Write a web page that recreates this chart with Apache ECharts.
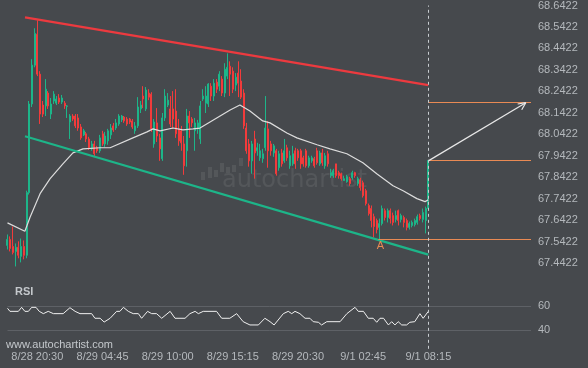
<!DOCTYPE html>
<html><head><meta charset="utf-8">
<script src="https://cdn.jsdelivr.net/npm/echarts@6/dist/echarts.min.js"></script>
<style>html,body{margin:0;padding:0;background:#46494d;}#c{width:588px;height:368px;}</style>
</head><body><div id="c"></div>
<script>
// ---- data ----
const tickIdx = [11, 35, 59, 83, 107, 131, 155];
const tickLabels = ['8/28 20:30', '8/29 04:45', '8/29 10:00', '8/29 15:15', '8/29 20:30', '9/1 02:45', '9/1 08:15'];
const priceTicks = ['67.4422', '67.5422', '67.6422', '67.7422', '67.8422', '67.9422', '68.0422', '68.1422', '68.2422', '68.3422', '68.4422', '68.5422', '68.6422'];
const rsiTicks = ['40', '60'];
// [open, close, low, high]
const candles = [
[67.524,67.552,67.505,67.575],[67.552,67.510,67.496,67.566],[67.519,67.491,67.482,67.612],[67.496,67.515,67.426,67.533],
[67.515,67.478,67.464,67.543],[67.473,67.519,67.445,67.556],[67.519,67.478,67.459,67.547],[67.478,67.770,67.464,67.779],
[67.770,68.183,67.761,68.197],[68.183,68.364,68.169,68.392],[68.364,68.512,68.354,68.536],[68.508,68.322,68.313,68.573],
[68.322,68.136,68.090,68.336],[68.178,68.136,68.122,68.197],[68.174,68.252,68.127,68.299],[68.234,68.174,68.160,68.243],
[68.136,68.183,68.113,68.211],[68.197,68.229,68.183,68.243],[68.187,68.206,68.178,68.220],[68.211,68.192,68.183,68.229],
[68.192,68.211,68.183,68.225],[68.187,68.174,68.160,68.197],[68.172,68.174,68.118,68.178],[68.099,68.127,68.020,68.136],
[68.127,68.113,68.104,68.136],[68.127,68.081,68.071,68.136],[68.118,68.071,68.058,68.136],[68.076,68.025,68.016,68.090],
[68.039,68.058,68.034,68.067],[68.044,68.020,68.006,68.053],[68.020,67.979,67.969,68.030],[67.974,67.997,67.965,68.011],
[67.997,67.951,67.937,68.011],[67.979,67.965,67.955,67.988],[67.965,68.025,67.955,68.039],[68.044,67.997,67.988,68.058],
[67.997,68.034,67.983,68.053],[68.011,68.058,67.993,68.067],[68.039,68.071,68.020,68.090],[68.081,68.062,68.053,68.095],
[68.071,68.095,68.062,68.113],[68.090,68.127,68.081,68.136],[68.109,68.127,68.099,68.132],[68.122,68.104,68.095,68.127],
[68.113,68.090,68.081,68.122],[68.113,68.099,68.090,68.118],[68.104,68.076,68.067,68.113],[68.058,68.081,68.044,68.099],
[68.081,68.169,68.071,68.215],[68.160,68.178,68.141,68.197],[68.220,68.206,68.164,68.266],[68.160,68.248,68.150,68.262],
[68.234,68.215,68.201,68.252],[68.229,68.067,68.053,68.238],[67.997,68.099,67.979,68.113],[68.095,68.034,68.006,68.164],
[68.025,67.974,67.918,68.044],[67.928,68.118,67.918,68.141],[68.118,68.220,68.104,68.252],[68.178,68.201,68.169,68.234],
[68.160,68.090,68.076,68.220],[68.160,68.113,68.067,68.243],[68.150,68.044,68.025,68.252],[68.067,68.011,67.988,68.113],
[68.058,68.002,67.965,68.081],[67.997,67.895,67.853,68.034],[67.965,68.127,67.891,68.160],[68.127,68.095,68.025,68.150],
[68.113,68.095,68.076,68.122],[68.058,68.095,67.965,68.118],[68.067,68.095,68.044,68.109],[68.020,68.174,67.997,68.197],
[68.206,68.220,68.197,68.252],[68.187,68.220,68.141,68.266],[68.183,68.276,68.169,68.280],[68.266,68.220,68.197,68.280],
[68.220,68.280,68.197,68.299],[68.285,68.252,68.234,68.299],[68.266,68.322,68.243,68.336],[68.299,68.234,68.220,68.313],
[68.234,68.345,68.215,68.373],[68.313,68.354,68.299,68.419],[68.359,68.322,68.220,68.382],[68.336,68.252,68.234,68.354],
[68.271,68.308,68.243,68.327],[68.327,68.280,68.215,68.382],[68.290,68.215,68.206,68.345],[68.234,68.081,68.067,68.252],
[68.071,67.965,67.951,68.095],[67.997,67.918,67.891,68.020],[67.918,67.997,67.858,68.011],[68.020,67.955,67.835,68.058],
[67.965,67.979,67.942,68.002],[67.932,67.965,67.918,67.997],[67.928,67.951,67.909,67.974],[67.979,68.071,67.965,68.220],
[68.067,67.965,67.886,68.104],[67.997,67.965,67.942,68.011],[67.955,67.988,67.937,67.997],[67.965,67.858,67.849,67.974],
[67.886,67.951,67.872,67.965],[67.955,67.904,67.891,67.974],[67.918,67.965,67.909,68.020],[67.979,67.932,67.918,67.993],
[67.895,67.942,67.881,67.965],[67.904,67.951,67.895,67.988],[67.965,67.904,67.881,67.979],[67.965,67.932,67.918,67.974],
[67.965,67.904,67.881,67.974],[67.932,67.904,67.891,67.942],[67.965,67.895,67.886,67.974],[67.895,67.932,67.886,67.942],
[67.918,67.932,67.909,67.942],[67.928,67.895,67.886,67.937],[67.965,67.909,67.900,67.979],[67.904,67.955,67.895,67.965],
[67.955,67.909,67.895,67.974],[67.895,67.942,67.881,67.955],[67.951,67.904,67.891,67.965],[67.849,67.863,67.839,67.881],
[67.849,67.872,67.839,67.881],[67.904,67.849,67.839,67.904],[67.863,67.849,67.835,67.872],[67.858,67.835,67.826,67.863],
[67.826,67.835,67.826,67.849],[67.821,67.844,67.816,67.853],[67.835,67.812,67.802,67.844],[67.839,67.863,67.830,67.872],
[67.863,67.849,67.839,67.867],[67.812,67.835,67.802,67.844],[67.830,67.793,67.779,67.839],[67.816,67.756,67.747,67.826],
[67.779,67.719,67.710,67.788],[67.710,67.672,67.663,67.719],[67.696,67.640,67.608,67.710],[67.658,67.612,67.561,67.672],
[67.640,67.598,67.580,67.649],[67.608,67.626,67.552,67.649],[67.626,67.696,67.617,67.710],[67.686,67.654,67.640,67.696],
[67.654,67.686,67.631,67.696],[67.686,67.649,67.626,67.696],[67.663,67.631,67.617,67.677],[67.645,67.663,67.631,67.686],
[67.686,67.640,67.617,67.691],[67.645,67.663,67.631,67.672],[67.654,67.631,67.608,67.663],[67.640,67.608,67.594,67.649],
[67.608,67.626,67.598,67.635],[67.617,67.631,67.608,67.640],[67.621,67.640,67.612,67.649],[67.631,67.658,67.621,67.668],
[67.663,67.649,67.640,67.672],[67.645,67.677,67.631,67.696],[67.640,67.696,67.580,67.705],[67.696,67.920,67.686,67.922]
];
// moving average: [candle index, price]
const maLine = [
[0,67.629],[6.4,67.590],[8.3,67.655],[12,67.765],[15.7,67.835],[20.4,67.904],[24.1,67.955],[27.8,67.974],[34.1,67.979],
[37.8,67.979],[46.2,68.025],[51.4,68.053],[53.6,68.067],[56.2,68.058],[61,68.071],[64.6,68.062],[68.3,68.067],[70.9,68.071],
[78.3,68.127],[82,68.155],[85.6,68.178],[89.3,68.150],[94,68.104],[96.7,68.095],[102.9,68.048],[106.6,68.025],[114,67.993],
[118.8,67.974],[125,67.951],[130.9,67.909],[136,67.858],[142,67.802],[145.7,67.779],[150.8,67.742],[153.8,67.728],[155,67.737]
];
// RSI: [candle index, value]
const rsi = [
[0,58.1],[0.9,55.6],[4,55.6],[5.2,58.9],[6.4,55.6],[7.7,55.6],[8.9,58.9],[10.5,58.9],[11.7,55.6],[13.2,53.7],[15,55.6],
[16.9,53.7],[20.5,53.7],[23,58.6],[24.9,55.6],[26.7,53.7],[31,53.7],[32.2,49.9],[34.1,49.9],[35.6,46.8],[37.8,49.9],
[40.2,55.6],[41.4,55.6],[42.7,58.9],[44.5,55.6],[46.3,53.7],[48.2,53.7],[49.4,49.9],[51.6,55.6],[53.1,53.7],[54.9,53.7],
[56.8,49.9],[59.9,55.6],[61.7,49.9],[65.4,49.9],[67.2,53.7],[69.1,55.6],[70.3,53.7],[72.1,55.6],[77,55.6],[78.9,49.9],
[81.9,49.9],[84.4,53.7],[86.8,47.1],[89.3,44.4],[92.4,44.4],[94.8,49.9],[96.7,47.1],[98.2,44.4],[101.6,53.7],[103.4,55.6],
[104.7,53.7],[105.9,55.6],[107.7,53.7],[109.6,49.9],[111.4,49.9],[112.6,47.1],[114.5,46.6],[115.7,44.4],[117.6,47.1],
[122.5,47.1],[125,53.7],[128,58.9],[129.2,55.6],[131.1,55.6],[132.9,49.9],[134.7,49.9],[136,46.6],[137.2,49.9],[138.5,49.9],
[140.3,44.4],[141.5,47.1],[142.7,44.4],[143.9,47.1],[145.2,44.4],[147,44.4],[148.2,46.6],[150,47.1],[151.9,53.7],[153.1,49.9],[155,55.6]
];
const resistance = [[6.45, 68.587], [155, 68.271]];
const support = [[6.45, 68.033], [155, 67.481]];
const targetLevel = 68.192;
const breakLevel = 67.922;
const pointA = [136.6, 67.552];
const arrowShaft = [[155, 67.918], [190.9, 68.189]];
const arrowWings = [[187.9, 68.183], [189.4, 68.156]];
const lastIdx = 155;

// ---- chart ----
const GREEN = '#1db589', RED = '#f23b3b', ORANGE = '#e98a54', TXT = '#b4b8bc', BG = '#46494d';
const FONT = '"Liberation Sans", Arial, sans-serif';
const X_MIN = -2.762, X_MAX = 192.82;
const Y_MIN = 67.0422, Y_MAX = 68.6422;
const chart = echarts.init(document.getElementById('c'));
const seg = (a, b, style) => [{coord: a, lineStyle: style}, {coord: b}];
const annot = [
  seg(resistance[0], resistance[1], {color: '#ec3a3f', width: 2.2, type: 'solid'}),
  seg(support[0], support[1], {color: GREEN, width: 2.2, type: 'solid'}),
  seg([lastIdx, targetLevel], [X_MAX, targetLevel], {color: ORANGE, width: 1, type: 'solid'}),
  seg([lastIdx, breakLevel], [X_MAX, breakLevel], {color: ORANGE, width: 1, type: 'solid'}),
  seg(pointA, [X_MAX, pointA[1]], {color: ORANGE, width: 1, type: 'solid'}),
  seg(arrowShaft[0], arrowShaft[1], {color: '#e8e8e8', width: 1.2, type: 'solid'}),
  seg(arrowShaft[1], arrowWings[0], {color: '#e8e8e8', width: 1.2, type: 'solid'}),
  seg(arrowShaft[1], arrowWings[1], {color: '#e8e8e8', width: 1.2, type: 'solid'}),
  {xAxis: lastIdx, lineStyle: {color: '#c8ccd0', width: 1, type: [3, 3]}}
];
const priceLabel = v => {
  const k = Math.round((v - Y_MIN) / 0.1) - 4;
  return k >= 0 && k < priceTicks.length ? priceTicks[k] : '';
};

chart.setOption({
  animation: false,
  backgroundColor: BG,
  grid: [
    {left: 0, right: 57, top: 4, bottom: 19.2},
    {left: 7.5, right: 57, top: 306, height: 24.3}
  ],
  xAxis: [
    {type: 'value', gridIndex: 0, min: X_MIN, max: X_MAX,
     axisLine: {show: false}, axisTick: {show: false}, splitLine: {show: false},
     axisLabel: {customValues: tickIdx, color: TXT, fontSize: 11, fontFamily: FONT, margin: 3,
       formatter: v => { const k = tickIdx.indexOf(Math.round(v)); return k >= 0 ? tickLabels[k] : ''; }}},
    {type: 'value', gridIndex: 1, min: 0, max: X_MAX, show: false}
  ],
  yAxis: [
    {type: 'value', gridIndex: 0, position: 'right', min: Y_MIN, max: Y_MAX, interval: 0.1,
     axisLine: {show: false}, axisTick: {show: false}, splitLine: {show: false},
     axisLabel: {color: TXT, fontSize: 11, fontFamily: FONT, margin: 7, formatter: priceLabel}},
    {type: 'value', gridIndex: 1, position: 'right', min: 40, max: 60, interval: 20,
     axisLine: {show: false}, axisTick: {show: false},
     splitLine: {show: true, lineStyle: {color: '#5e6166', width: 1}},
     axisLabel: {color: TXT, fontSize: 11, fontFamily: FONT, margin: 7,
       formatter: v => rsiTicks[Math.round((v - 40) / 20)] || ''}}
  ],
  graphic: [
    {type: 'text', left: 222, top: 169, silent: true,
     style: {text: 'autochartist', fill: 'rgba(255,255,255,0.08)', font: '24px "DejaVu Sans", sans-serif'}},
    {type: 'group', silent: true, children: [
      {type: 'rect', shape: {x: 201, y: 172, width: 4, height: 8}, style: {fill: 'rgba(255,255,255,0.08)'}},
      {type: 'rect', shape: {x: 208, y: 167, width: 4, height: 11}, style: {fill: 'rgba(255,255,255,0.08)'}},
      {type: 'rect', shape: {x: 214, y: 170, width: 4, height: 7}, style: {fill: 'rgba(255,255,255,0.08)'}},
      {type: 'rect', shape: {x: 220, y: 163, width: 4, height: 9}, style: {fill: 'rgba(255,255,255,0.08)'}},
      {type: 'rect', shape: {x: 226, y: 167, width: 4, height: 6}, style: {fill: 'rgba(255,255,255,0.08)'}},
      {type: 'rect', shape: {x: 232, y: 165, width: 4, height: 7}, style: {fill: 'rgba(255,255,255,0.08)'}},
      {type: 'rect', shape: {x: 239, y: 158, width: 4, height: 8}, style: {fill: 'rgba(255,255,255,0.08)'}}
    ]},
    {type: 'text', left: 15, top: 286, style: {text: 'RSI', fill: '#c4c8cc', font: 'bold 11px ' + FONT}},
    {type: 'text', left: 6, top: 339, style: {text: 'www.autochartist.com', fill: '#c4c8cc', font: '11px ' + FONT}}
  ],
  series: [
    {type: 'candlestick', xAxisIndex: 0, yAxisIndex: 0, barWidth: 1.5,
     encode: {x: 0, y: [1, 2, 3, 4]},
     data: candles.map((d, i) => [i, d[0], d[1], d[2], d[3]]),
     itemStyle: {color: GREEN, color0: RED, borderColor: GREEN, borderColor0: RED, borderWidth: 1}},
    {type: 'line', xAxisIndex: 0, yAxisIndex: 0, data: maLine, symbol: 'none', silent: true,
     lineStyle: {color: '#dcdcdc', width: 1.2},
     markLine: {silent: true, symbol: ['none', 'none'], label: {show: false}, animation: false, data: annot},
     markPoint: {silent: true, symbol: 'circle', symbolSize: 1, itemStyle: {color: 'rgba(0,0,0,0)'},
       label: {show: true, formatter: 'A', color: ORANGE, fontSize: 11, position: 'inside', offset: [2, 7]},
       data: [{coord: pointA}]}},
    {type: 'line', xAxisIndex: 1, yAxisIndex: 1, data: rsi, symbol: 'none', clip: false, silent: true,
     lineStyle: {color: '#f0f0f0', width: 1}}
  ]
});
</script></body></html>
